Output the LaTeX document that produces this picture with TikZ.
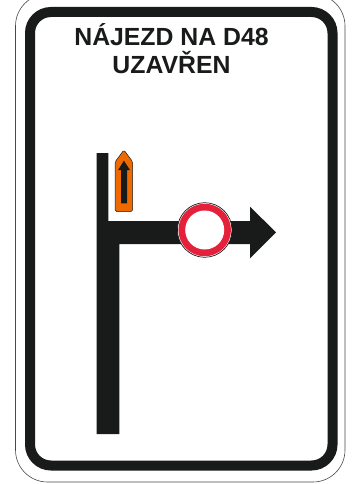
\documentclass[tikz,border=0pt]{standalone}
\usepackage{fontspec}
\setmainfont{Liberation Sans}
\definecolor{ink}{HTML}{181B1A}
\definecolor{signred}{HTML}{E4203A}
\definecolor{signorange}{HTML}{EE6A00}
\tikzset{
  signtext/.style={font=\fontsize{24.8}{26}\selectfont\bfseries,text=ink,inner sep=0pt,anchor=base},
  inkfill/.style={fill=ink,draw=none}
}
\begin{document}
\begin{tikzpicture}[x=1pt,y=-1pt]
\useasboundingbox (0,0) rectangle (351,484);
\clip (0,0) rectangle (351,484);
% outer edge
\draw[rounded corners=32pt,line width=0.6pt,draw=ink!80,fill=white] (15.5,-6) rectangle (345,482);
% black band
\draw[rounded corners=21pt,line width=10pt,draw=ink] (30,12) rectangle (332.5,465.5);
% text
\node[signtext] (t1) at (171.5,46) {NÁJEZD NA D48};
\node[signtext] (t2) at (171.5,74) {UZAVŘEN};
% road
\fill[inkfill] (96.7,153) -- (108.3,153) -- (108.3,221) -- (250,221) -- (250,206.7) -- (276,232.3) -- (250,258.3) -- (250,244) -- (119.3,244) -- (119.3,434) -- (96.7,434) -- cycle;
% prohibition sign
\node[circle,draw=ink,line width=0.7pt,fill=white,minimum size=54.6pt,inner sep=0pt] (c0) at (204.7,230) {};
\node[circle,fill=signred,minimum size=52.5pt,inner sep=0pt] (c1) at (c0) {};
\node[circle,fill=white,minimum size=39pt,inner sep=0pt] (c2) at (c0) {};
% orange sign
\draw[rounded corners=1.5pt,fill=signorange,draw=ink,line width=0.5pt,line join=round] (123.9,150) -- (132.6,161.7) -- (132.6,211.5) -- (115.2,211.5) -- (115.2,161.7) -- cycle;
\fill[inkfill] (123.9,160.7) -- (130,170) -- (127.2,170) -- (127.2,203.3) -- (121,203.3) -- (121,170) -- (118.1,170) -- cycle;
\end{tikzpicture}
\end{document}
